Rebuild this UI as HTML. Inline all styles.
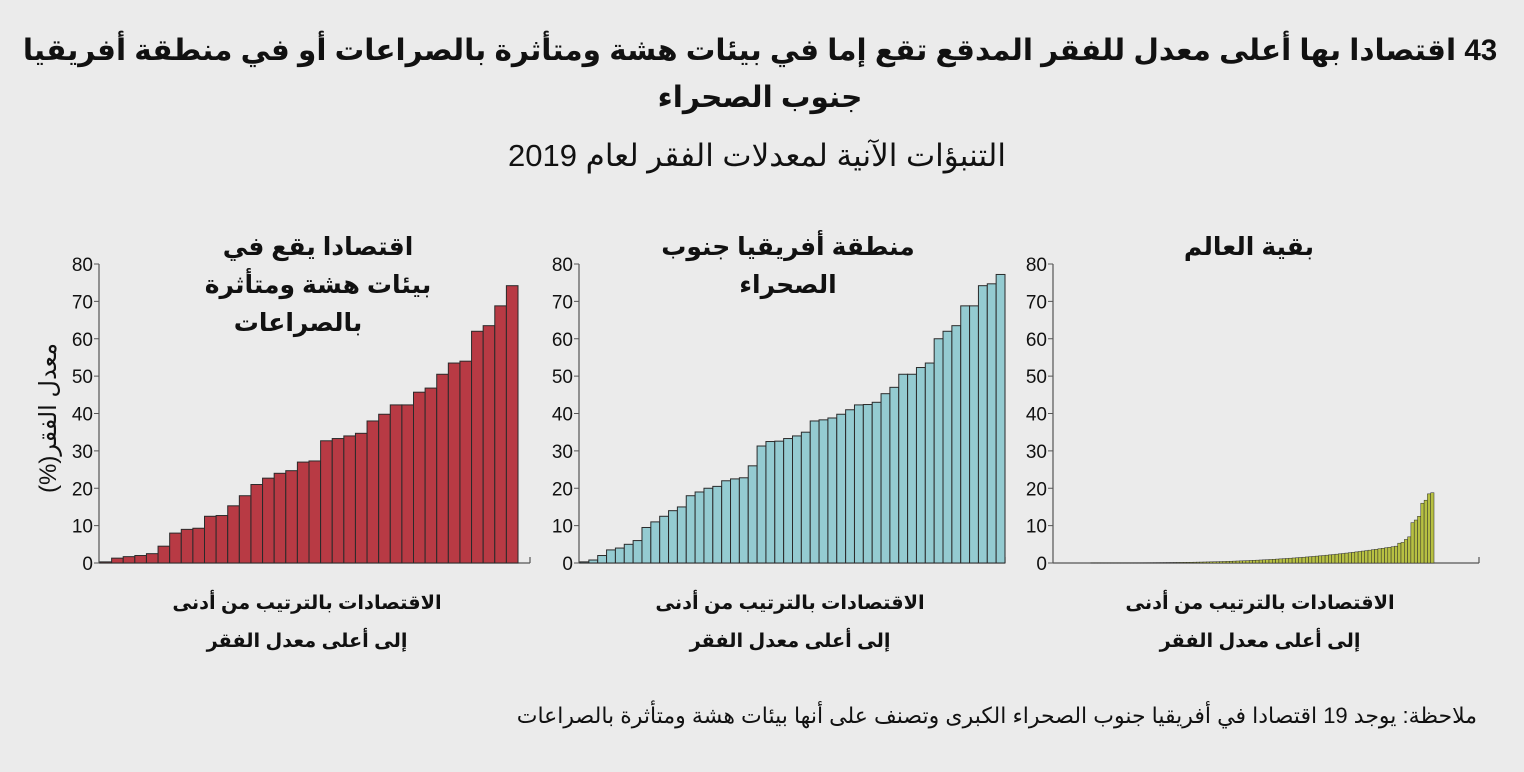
<!DOCTYPE html>
<html><head><meta charset="utf-8"><style>
html,body{margin:0;padding:0;background:#ebebeb;}
svg{display:block;}
text{font-family:"Liberation Sans","DejaVu Sans",sans-serif;fill:#111;}
.t{font-weight:bold;font-size:29.5px;}
.s{font-size:31px;}
.p{font-weight:bold;font-size:25px;}
.x{font-weight:bold;font-size:19.3px;}
.k{font-size:18px;}
.n{font-size:22px;}
</style></head><body>
<svg id="c" width="1524" height="772" xmlns="http://www.w3.org/2000/svg">
<rect width="1524" height="772" fill="#ebebeb"/>
<text class="t" x="760" y="60" text-anchor="middle" direction="rtl">43 اقتصادا بها أعلى معدل للفقر المدقع تقع إما في بيئات هشة ومتأثرة بالصراعات أو في منطقة أفريقيا</text>
<text class="t" x="760" y="107" text-anchor="middle" direction="rtl">جنوب الصحراء</text>
<text class="s" x="757" y="166" text-anchor="middle" direction="rtl">التنبؤات الآنية لمعدلات الفقر لعام 2019</text>
<text class="p" x="318" y="255" text-anchor="middle" direction="rtl">اقتصادا يقع في</text>
<text class="p" x="318" y="293" text-anchor="middle" direction="rtl">بيئات هشة ومتأثرة</text>
<text class="p" x="298" y="331" text-anchor="middle" direction="rtl">بالصراعات</text>
<text class="p" x="788" y="255" text-anchor="middle" direction="rtl">منطقة أفريقيا جنوب</text>
<text class="p" x="788" y="293" text-anchor="middle" direction="rtl">الصحراء</text>
<text class="p" x="1249" y="255" text-anchor="middle" direction="rtl">بقية العالم</text>
<text class="s" transform="translate(56,418) rotate(-90)" text-anchor="middle" style="font-size:24px" direction="rtl">معدل الفقر(%)</text>
<text class="x" x="307" y="609" text-anchor="middle" direction="rtl">الاقتصادات بالترتيب من أدنى</text>
<text class="x" x="307" y="647" text-anchor="middle" direction="rtl">إلى أعلى معدل الفقر</text>
<text class="x" x="790" y="609" text-anchor="middle" direction="rtl">الاقتصادات بالترتيب من أدنى</text>
<text class="x" x="790" y="647" text-anchor="middle" direction="rtl">إلى أعلى معدل الفقر</text>
<text class="x" x="1260" y="609" text-anchor="middle" direction="rtl">الاقتصادات بالترتيب من أدنى</text>
<text class="x" x="1260" y="647" text-anchor="middle" direction="rtl">إلى أعلى معدل الفقر</text>
<text class="n" x="1477" y="723" text-anchor="start" direction="rtl">ملاحظة: يوجد 19 اقتصادا في أفريقيا جنوب الصحراء الكبرى وتصنف على أنها بيئات هشة ومتأثرة بالصراعات</text>
<g id="g"></g>
</svg>
<script>
var g=document.getElementById('g'),h='';
var Y0=563,S=(563-264)/80;
function axis(ax,xend,lx){
 h+='<line x1="'+ax+'" y1="264" x2="'+ax+'" y2="'+Y0+'" stroke="#555" stroke-width="1.2"/>';
 h+='<line x1="'+ax+'" y1="'+Y0+'" x2="'+xend+'" y2="'+Y0+'" stroke="#555" stroke-width="1.2"/>';
 h+='<line x1="'+xend+'" y1="'+(Y0-6)+'" x2="'+xend+'" y2="'+Y0+'" stroke="#555" stroke-width="1.2"/>';
 for(var v=0;v<=80;v+=10){var y=Y0-v*S;
  h+='<line x1="'+(ax-5)+'" y1="'+y+'" x2="'+ax+'" y2="'+y+'" stroke="#555"/>';
  h+='<text class="k" x="'+lx+'" y="'+(y+7)+'" text-anchor="end" style="font-size:19px">'+v+'</text>';}
}
function bars(x0,x1,d,fill,sw){var w=(x1-x0)/d.length;
 for(var i=0;i<d.length;i++){var hh=d[i]*S;
  h+='<rect x="'+(x0+i*w)+'" y="'+(Y0-hh)+'" width="'+w+'" height="'+hh+'" fill="'+fill+'" stroke="#2a2a2a" stroke-width="'+sw+'"/>';}}
axis(99,530,93);
bars(100,518,[0.3,1.3,1.7,2,2.5,4.5,8,9,9.3,12.5,12.7,15.3,18,21,22.7,24,24.7,27,27.3,32.7,33.3,34,34.7,38,39.8,42.3,42.3,45.7,46.8,50.5,53.5,54,62,63.5,68.8,74.2],'#b83a44',1);
axis(579,1005,573);
bars(580,1005,[0.3,0.8,2,3.5,4,5,6,9.5,11,12.5,14,15,18,19,20,20.5,22,22.5,22.8,26,31.3,32.5,32.6,33.3,34,35,38,38.3,38.8,39.8,41,42.3,42.4,43,45.3,47,50.5,50.5,52.3,53.5,60,62,63.5,68.8,68.8,74.2,74.7,77.2],'#94cbd1',1);
axis(1053,1479,1047);
var d3=[];var N=92;for(var i=0;i<N;i++){var t=i/(N-1);d3.push(0.05+4.3*t*t*t);}
d3=d3.concat([4.5,5.3,5.5,6.3,7,10.8,11.5,12.5,16,16.8,18.5,18.8]);
bars(1434-d3.length*3.3,1434,d3,'#b7c042',0.5);
g.innerHTML=h;
</script>
</body></html>
